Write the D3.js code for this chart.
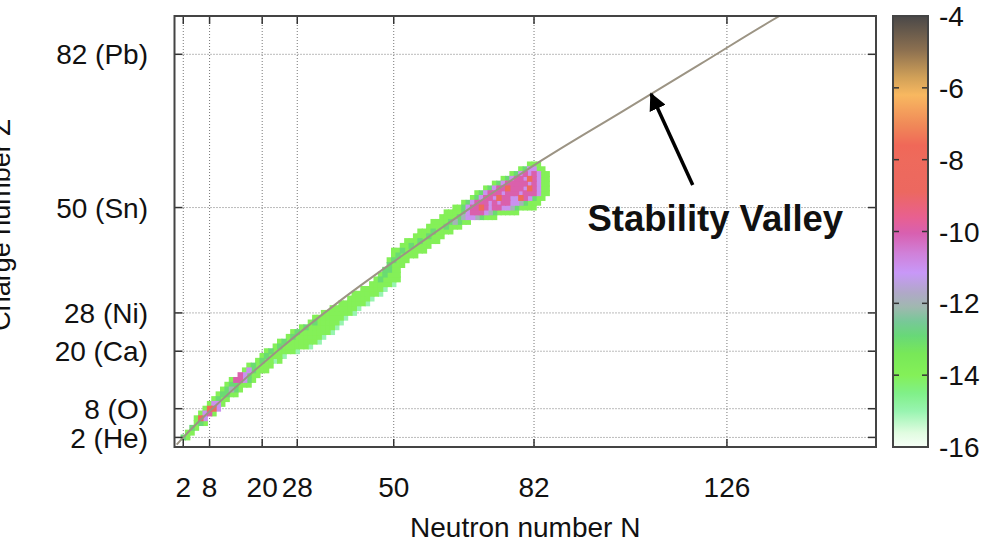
<!DOCTYPE html>
<meta charset="utf-8">
<style>
body { margin: 0; background: #fff; }
svg text { font-family: "Liberation Sans", Arial, sans-serif; fill: #111; }
.grid { stroke: #777; stroke-width: 1; stroke-dasharray: 1,2; fill: none; }
.tick { stroke: #333; stroke-width: 1.5; }
.frame { stroke: #444; stroke-width: 2; fill: none; }
.valley { stroke: #9c9484; stroke-width: 2; fill: none; }
</style>
<body>
<svg id="chart" width="990" height="542"></svg>
<script src="https://d3js.org/d3.v7.min.js"></script>
<script>

// axis ticks (magic numbers)
var nTicks = [2, 8, 20, 28, 50, 82, 126];
var zTicks = [2, 8, 20, 28, 50, 82];
var zTickLabels = ["2 (He)", "8 (O)", "20 (Ca)", "28 (Ni)", "50 (Sn)", "82 (Pb)"];

// stability valley
var valleyN = [0.5, 2, 11, 23.4, 37, 52, 67.6, 84, 102, 120, 138, 152];
var valleyZ = [0.5, 2, 10, 20, 30, 40, 50, 60, 70, 80, 90, 97];

// nuclei in the path: one row per Z, first N, then one digit per cell (value = -16 + digit)
var bandZ = [2, 3, 4, 5, 6, 7, 8, 9, 10, 11, 12, 13, 14, 15, 16, 17, 18, 19, 20,
  21, 22, 23, 24, 25, 26, 27, 28, 29, 30, 31, 32, 33, 34, 35, 36, 37, 38, 39, 40,
  41, 42, 43, 44, 45, 46, 47, 48, 49, 50, 51, 52, 53, 54, 55, 56, 57, 58, 59];
var bandN0 = [2, 3, 4, 5, 5, 6, 7, 8, 9, 10, 11, 12, 13, 15, 16, 17, 19, 20, 21,
  23, 24, 26, 27, 29, 31, 32, 34, 36, 38, 40, 41, 43, 45, 46, 47, 48, 49, 49, 50,
  50, 52, 53, 55, 56, 58, 59, 61, 62, 64, 66, 68, 69, 71, 73, 75, 77, 79, 81];
var bandCells = ["32", "22", "32", "232", "285", "2562", "2885", "2552", "2322",
  "23322", "23432", "233222", "266532", "65322", "253222", "232222", "232212",
  "232221", "23222221", "232222221", "2322222221", "232222221", "2322222221",
  "232222221", "23222221", "22222221", "22222221", "2222221", "2222221", "222221",
  "2222221", "222221", "222221", "232222", "23222", "3322", "3222", "23222",
  "232222", "22322222", "2232222", "22232222", "2223222", "22232222",
  "22223222", "222234322", "2222345543222", "22223566654322222",
  "2235668656655432222", "235666565665543222", "23566586655865322",
  "23566656665666522", "235668666586522", "2356666656522", "23566586522",
  "235656522", "235522", "222"];

// colour bar, log10 scale
var cbTicks = [-4, -6, -8, -10, -12, -14, -16];
var cbStops = [-16, -15.6, -15, -14.5, -14, -13.4, -12.9, -12.5, -12.1, -11.7, -11.15, -10.6,
  -10.05, -9.6, -8.9, -8, -7.6, -7.05, -6.2, -5.7, -4.95, -4];
var cbColors = ["#f8fff8", "#e0fce0", "#98f4b0", "#80f088", "#84f058", "#78e858", "#68d878",
  "#78c898", "#a0b8b0", "#b0a8c8", "#c898f8", "#d080d8", "#d860b0", "#e86090", "#ec6860",
  "#ee6a5c", "#f06858", "#f08858", "#f8b860", "#d0a058", "#8c7050", "#4a4848"];

var svg = d3.select("#chart");
var x = d3.scaleLinear().domain([0, 160]).range([174.5, 876]);
var y = d3.scaleLinear().domain([0, 90]).range([447, 16]);
var color = d3.scaleLinear().domain(cbStops).range(cbColors);
var cb = d3.scaleLinear().domain([-16, -4]).range([447, 16]);

var defs = svg.append("defs");
defs.append("clipPath").attr("id", "plotclip")
  .append("rect")
  .attr("x", x(0)).attr("y", y(90))
  .attr("width", x(160) - x(0)).attr("height", y(0) - y(90));
defs.append("filter").attr("id", "soft")
  .append("feGaussianBlur").attr("stdDeviation", 0.7);

// grid
var grid = svg.append("g");
grid.selectAll(".gx").data(nTicks).enter().append("line")
  .attr("class", "grid")
  .attr("x1", d => x(d)).attr("x2", d => x(d))
  .attr("y1", y(90)).attr("y2", y(0));
grid.selectAll(".gy").data(zTicks).enter().append("line")
  .attr("class", "grid")
  .attr("x1", x(0)).attr("x2", x(160))
  .attr("y1", d => y(d)).attr("y2", d => y(d));

// cells (drawn a little oversized, as in the blurry original)
var cells = [];
bandZ.forEach(function(z, i) {
  bandCells[i].split("").forEach(function(c, j) {
    cells.push({n: bandN0[i] + j, z: z, v: -16 + (+c)});
  });
});
cells.sort((a, b) => a.v - b.v);
svg.append("g").attr("clip-path", "url(#plotclip)")
  .append("g").attr("filter", "url(#soft)")
  .selectAll("rect").data(cells).enter().append("rect")
  .attr("x", d => x(d.n - 0.62))
  .attr("y", d => y(d.z + 0.62))
  .attr("width", d => x(d.n + 0.62) - x(d.n - 0.62))
  .attr("height", d => y(d.z - 0.62) - y(d.z + 0.62))
  .attr("fill", d => color(d.v));

// stability valley
var line = d3.line().x(d => x(d[0])).y(d => y(d[1])).curve(d3.curveMonotoneX);
svg.append("path")
  .datum(d3.zip(valleyN, valleyZ))
  .attr("class", "valley")
  .attr("clip-path", "url(#plotclip)")
  .attr("d", line);

// ticks, inward on all four sides
var tk = svg.append("g");
nTicks.forEach(function(d) {
  tk.append("line").attr("class", "tick").attr("x1", x(d)).attr("x2", x(d)).attr("y1", y(0)).attr("y2", y(0) - 8);
  tk.append("line").attr("class", "tick").attr("x1", x(d)).attr("x2", x(d)).attr("y1", y(90)).attr("y2", y(90) + 8);
});
zTicks.forEach(function(d) {
  tk.append("line").attr("class", "tick").attr("x1", x(0)).attr("x2", x(0) + 8).attr("y1", y(d)).attr("y2", y(d));
  tk.append("line").attr("class", "tick").attr("x1", x(160)).attr("x2", x(160) - 8).attr("y1", y(d)).attr("y2", y(d));
});

svg.append("rect").attr("class", "frame")
  .attr("x", x(0)).attr("y", y(90))
  .attr("width", x(160) - x(0)).attr("height", y(0) - y(90));

// tick labels
svg.selectAll(".xl").data(nTicks).enter().append("text")
  .attr("x", d => x(d)).attr("y", 497)
  .attr("text-anchor", "middle")
  .style("font-size", "28px")
  .text(d => d);
svg.selectAll(".yl").data(zTicks).enter().append("text")
  .attr("x", 148).attr("y", d => y(d))
  .attr("dy", "0.36em")
  .attr("text-anchor", "end")
  .style("font-size", "28px")
  .text((d, i) => zTickLabels[i]);

svg.append("text")
  .attr("x", (x(0) + x(160)) / 2).attr("y", 537)
  .attr("text-anchor", "middle")
  .style("font-size", "28px")
  .text("Neutron number N");

svg.append("text")
  .attr("transform", "translate(10," + 225 + ") rotate(-90)")
  .attr("text-anchor", "middle")
  .style("font-size", "27px")
  .text("Charge number Z");

// annotation
svg.append("defs").append("marker")
  .attr("id", "head").attr("viewBox", "0 0 10 10")
  .attr("refX", 9).attr("refY", 5)
  .attr("markerWidth", 5).attr("markerHeight", 5)
  .attr("markerUnits", "strokeWidth")
  .attr("orient", "auto")
  .append("path").attr("d", "M0,0L10,5L0,10Z").attr("fill", "#000");
svg.append("line")
  .attr("x1", x(118.2)).attr("y1", y(54.7))
  .attr("x2", x(108.7)).attr("y2", y(73.7))
  .attr("stroke", "#000").attr("stroke-width", 3.5)
  .attr("marker-end", "url(#head)");
svg.append("text")
  .attr("x", x(94.2)).attr("y", y(45.1))
  .style("font-size", "36.5px").style("font-weight", "bold")
  .text("Stability Valley");

// colour bar
var grad = defs.append("linearGradient").attr("id", "cbgrad")
  .attr("x1", 0).attr("y1", 1).attr("x2", 0).attr("y2", 0);
grad.selectAll("stop").data(cbStops).enter().append("stop")
  .attr("offset", d => (d + 16) / 12)
  .attr("stop-color", (d, i) => cbColors[i]);
svg.append("rect")
  .attr("x", 893).attr("y", cb(-4))
  .attr("width", 35).attr("height", cb(-16) - cb(-4))
  .attr("fill", "url(#cbgrad)");
cbTicks.forEach(function(d) {
  svg.append("line").attr("class", "tick").attr("x1", 893).attr("x2", 899).attr("y1", cb(d)).attr("y2", cb(d));
  svg.append("line").attr("class", "tick").attr("x1", 928).attr("x2", 922).attr("y1", cb(d)).attr("y2", cb(d));
});
svg.append("rect").attr("class", "frame")
  .attr("x", 893).attr("y", cb(-4))
  .attr("width", 35).attr("height", cb(-16) - cb(-4));
svg.selectAll(".cl").data(cbTicks).enter().append("text")
  .attr("x", 939).attr("y", d => cb(d))
  .attr("dy", "0.36em")
  .style("font-size", "28px")
  .text(d => d);

</script>
</body>
</html>
